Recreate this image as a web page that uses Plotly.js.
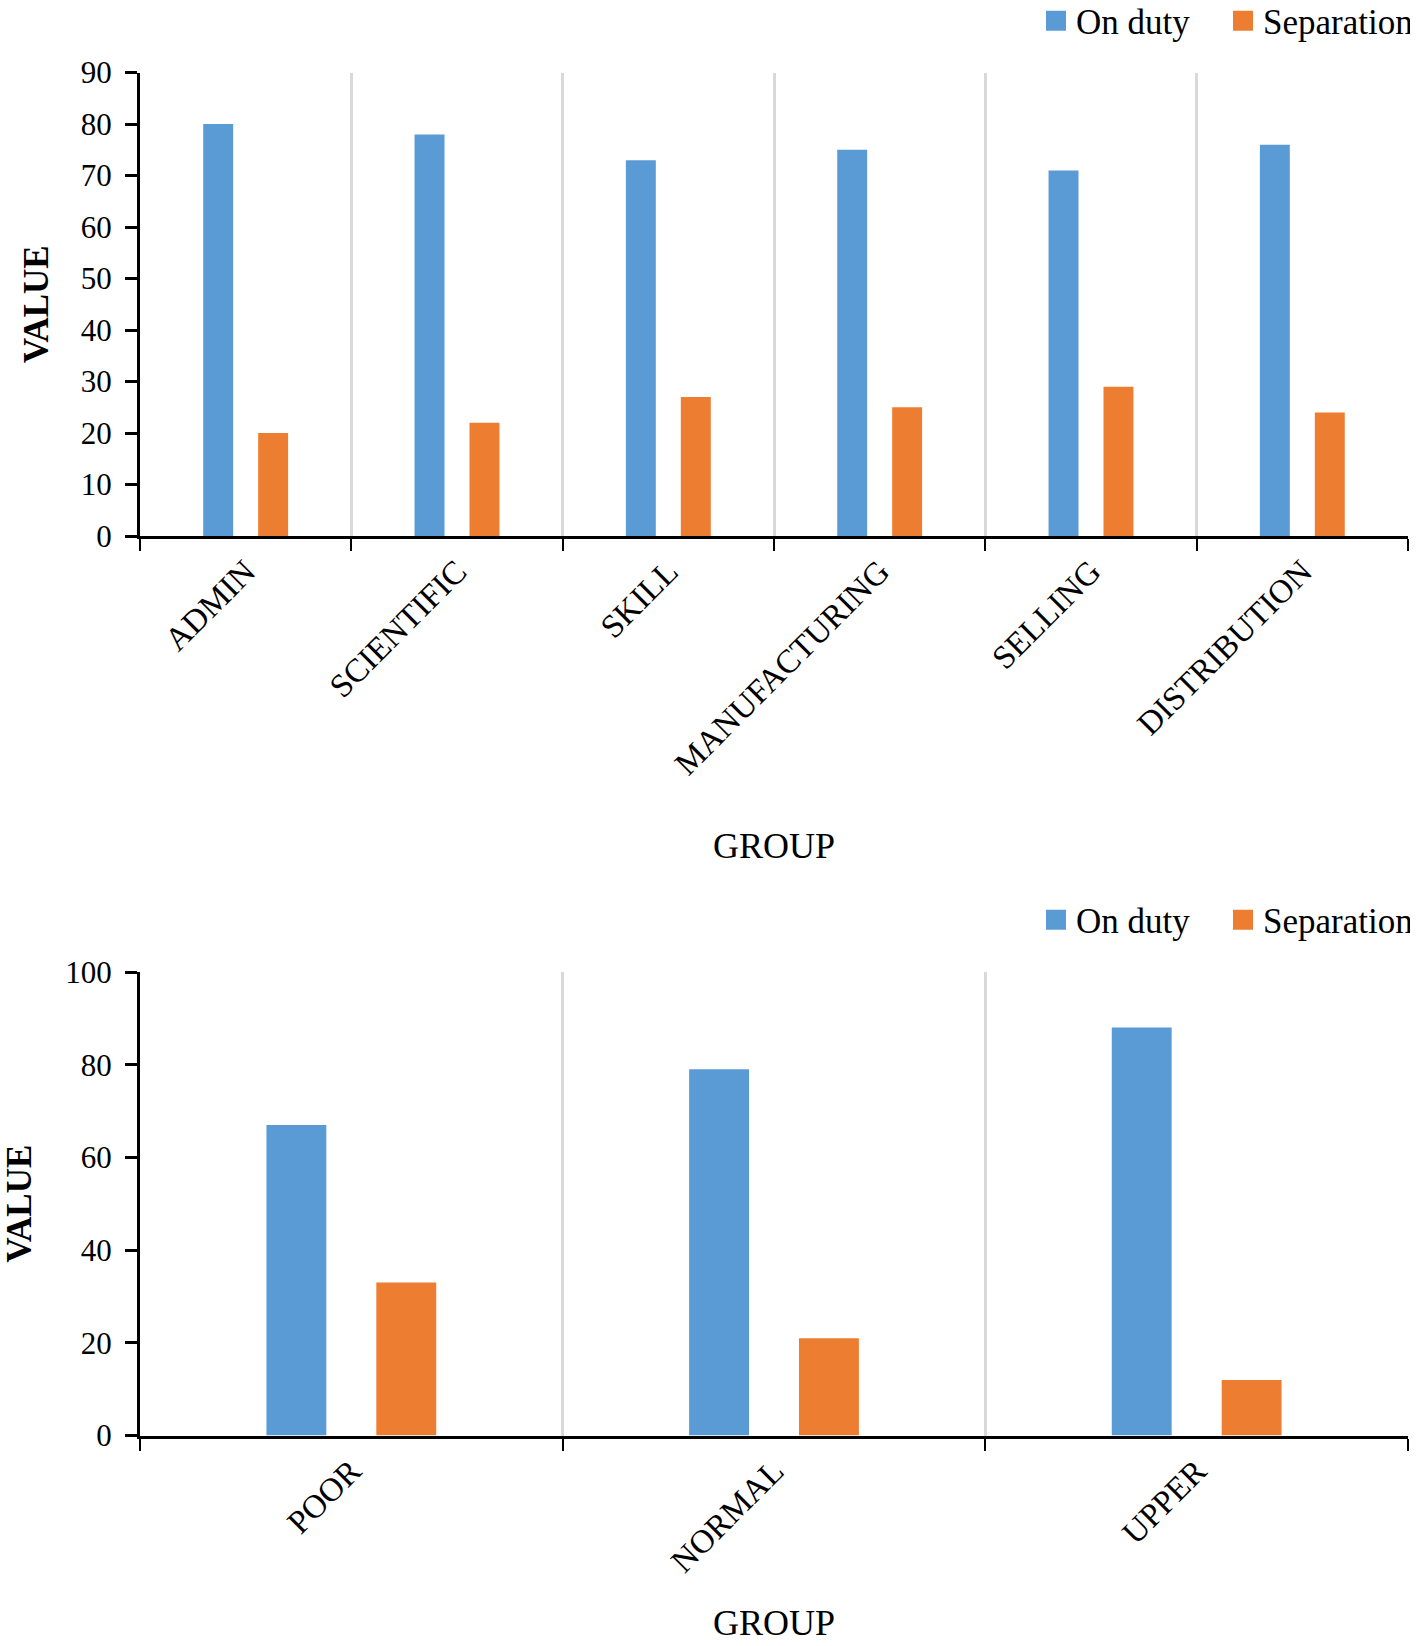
<!DOCTYPE html>
<html>
<head>
<meta charset="utf-8">
<script src="https://cdn.plot.ly/plotly-3.0.1.min.js"></script>
<style>html,body{margin:0;padding:0;background:#fff;}#chart{width:1421px;height:1646px;}</style>
</head>
<body>
<div id="chart"></div>
<script>
// Data
var groupsTop = ["ADMIN", "SCIENTIFIC", "SKILL", "MANUFACTURING", "SELLING", "DISTRIBUTION"];
var onDutyTop = [80, 78, 73, 75, 71, 76];
var separationTop = [20, 22, 27, 25, 29, 24];

var groupsBottom = ["POOR", "NORMAL", "UPPER"];
var onDutyBottom = [67, 79, 88];
var separationBottom = [33, 21, 12];

var seriesNames = ["On duty", "Separation"];
var colors = ["#5B9BD5", "#ED7D31"];

var W = 1421, H = 1646;
var FONT = "Liberation Serif, Times New Roman, serif";

var traces = [
  {type: "bar", name: seriesNames[0], x: groupsTop, y: onDutyTop, marker: {color: colors[0]}, xaxis: "x", yaxis: "y", legend: "legend"},
  {type: "bar", name: seriesNames[1], x: groupsTop, y: separationTop, marker: {color: colors[1]}, xaxis: "x", yaxis: "y", legend: "legend"},
  {type: "bar", name: seriesNames[0], x: groupsBottom, y: onDutyBottom, marker: {color: colors[0]}, xaxis: "x2", yaxis: "y2", legend: "legend2"},
  {type: "bar", name: seriesNames[1], x: groupsBottom, y: separationBottom, marker: {color: colors[1]}, xaxis: "x2", yaxis: "y2", legend: "legend2"}
];

var xDom = [140 / W, 1408 / W];
function xAxis(anchor, standoff, size) {
  return {
    domain: xDom, anchor: anchor, type: "category",
    showline: true, linecolor: "#000", linewidth: 3,
    ticks: "outside", ticklen: 12, tickwidth: 2, tickcolor: "#000",
    tickson: "boundaries",
    showgrid: true, gridcolor: "#d9d9d9", gridwidth: 3,
    tickangle: -45,
    tickfont: {family: FONT, size: size, color: "#000"},
    title: {text: "GROUP", font: {family: FONT, size: 36, color: "#000"}, standoff: standoff},
    zeroline: false, fixedrange: true
  };
}
function yAxis(anchor, dom, range, dtick, standoff) {
  return {
    domain: dom, anchor: anchor, range: range, dtick: dtick,
    showline: true, linecolor: "#000", linewidth: 3,
    ticks: "outside", ticklen: 12, tickwidth: 3, tickcolor: "#000",
    ticklabelstandoff: 7,
    showgrid: false, zeroline: false,
    tickfont: {family: FONT, size: 31, color: "#000"},
    title: {text: "VALUE", font: {family: FONT, size: 35, color: "#000", weight: "bold"}, standoff: standoff},
    fixedrange: true
  };
}

var legendBase = function (yc) {
  return {orientation: "h", x: 1 - 11 / W, xanchor: "right", y: 1 - yc / H, yanchor: "middle",
    entrywidth: 142, entrywidthmode: "pixels",
    font: {family: FONT, size: 35, color: "#000"}, bgcolor: "rgba(0,0,0,0)", traceorder: "normal"};
};

var layout = {
  width: W, height: H,
  margin: {l: 0, r: 0, t: 0, b: 0, autoexpand: false},
  paper_bgcolor: "#fff", plot_bgcolor: "#fff",
  font: {family: FONT, color: "#000"},
  barmode: "group",
  bargap: 0.48,
  bargroupgap: 0.455,
  xaxis: xAxis("y", 52, 33),
  yaxis: yAxis("x", [1 - 536 / H, 1 - 72.6 / H], [0, 90], 10, 22),
  xaxis2: xAxis("y2", 32, 33),
  yaxis2: yAxis("x2", [1 - 1435.5 / H, 1 - 972 / H], [0, 100], 20, 25),
  legend: legendBase(21),
  legend2: legendBase(920),
  showlegend: true
};

function bigSquares(gd) {
  gd.querySelectorAll(".legendpoints path").forEach(function (p) {
    p.setAttribute("d", "M10,10H-10V-10H10Z");
  });
}
Plotly.newPlot("chart", traces, layout, {displayModeBar: false, staticPlot: true}).then(function (gd) {
  bigSquares(gd);
  gd.on("plotly_afterplot", function () { bigSquares(gd); });
});
</script>
</body>
</html>
